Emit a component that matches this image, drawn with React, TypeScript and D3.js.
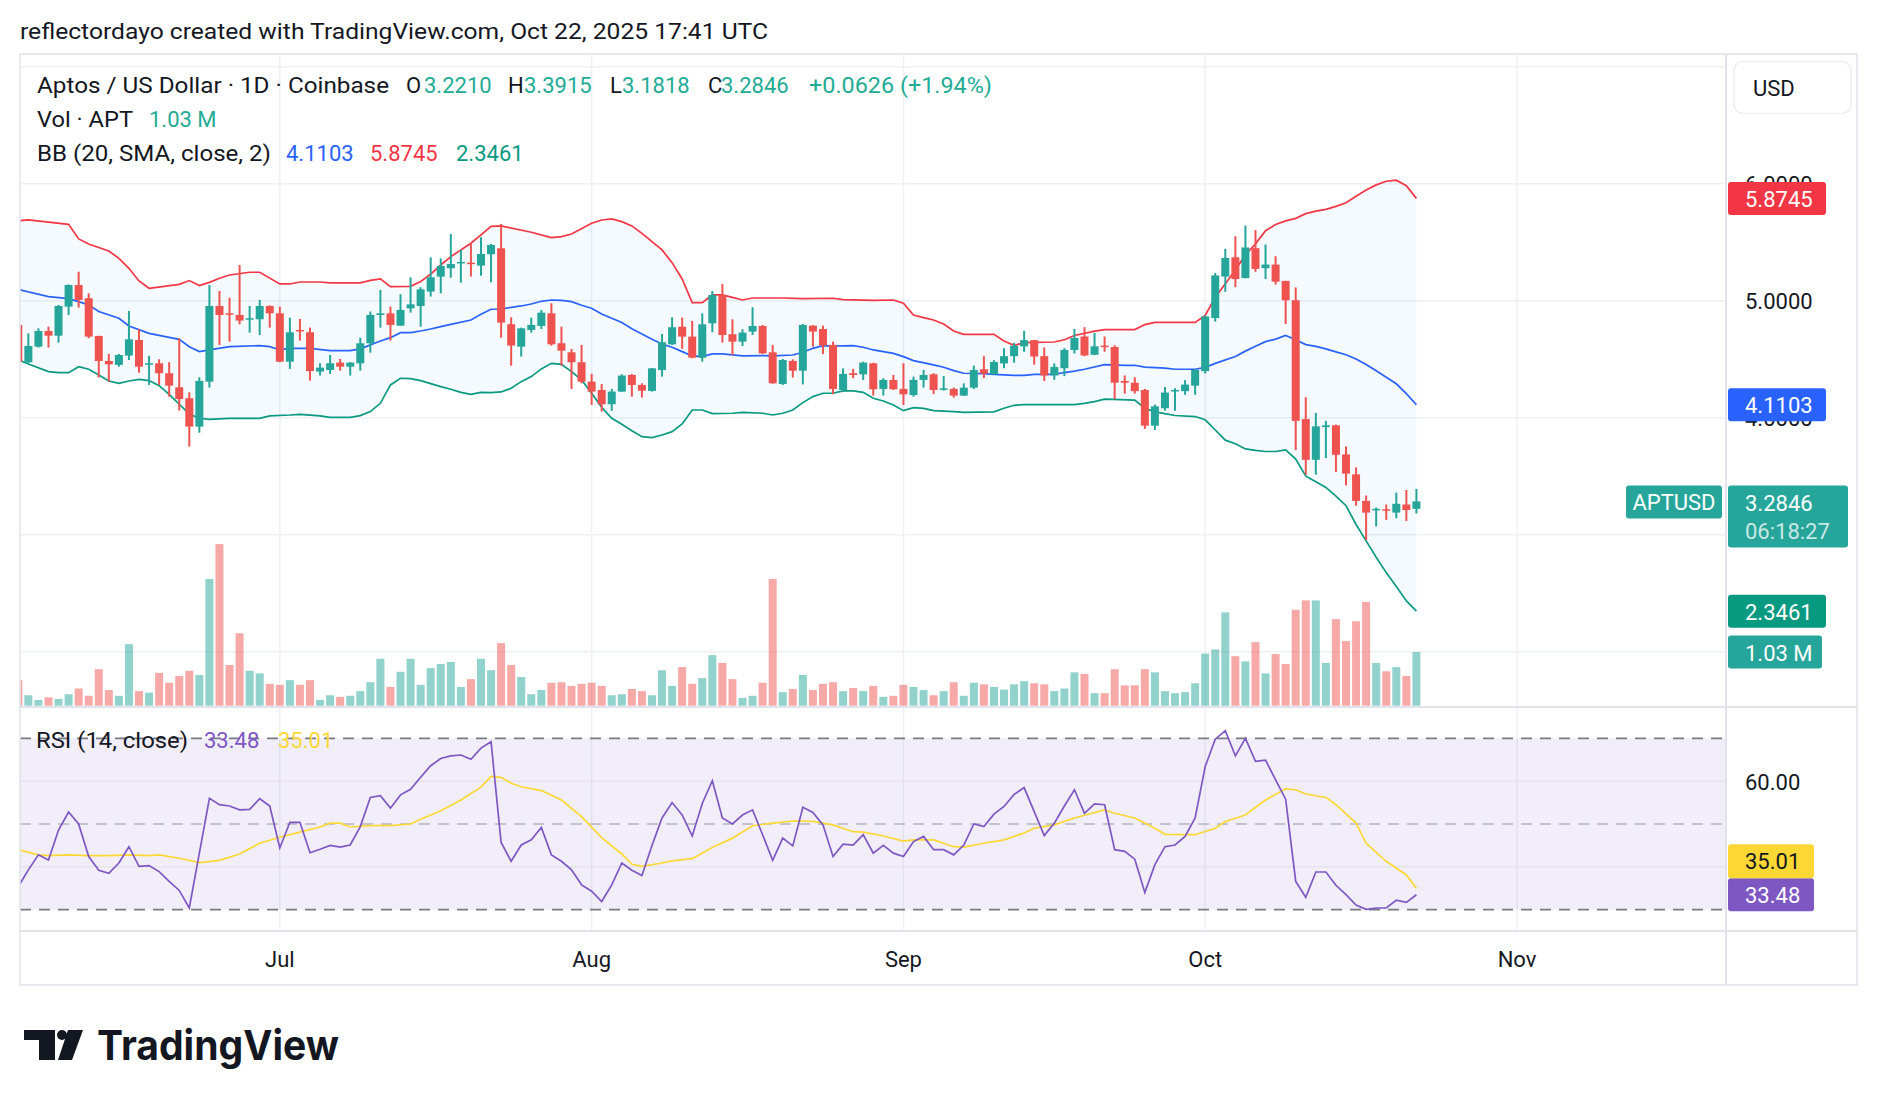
import * as d3 from "d3";

// APT/USD daily, Jun 5 – Oct 22 2025 (one entry per day)
const FIRST_DAY = "2025-06-05";
const LAST_AXIS_DAY = "2025-11-01";

const OPEN = [
  4.793, 4.474, 4.607, 4.741, 4.701, 4.949, 5.134, 5.021, 4.699, 4.485,
  4.451, 4.531, 4.664, 4.456, 4.465, 4.38, 4.26, 4.166, 3.924, 4.308,
  4.955, 4.892, 4.878, 4.844, 4.841, 4.955, 4.892, 4.479, 4.75, 4.73,
  4.394, 4.408, 4.471, 4.436, 4.465, 4.636, 4.878, 4.892, 4.787, 4.935,
  4.955, 5.078, 5.206, 5.277, 5.32, 5.325, 5.3, 5.397, 5.448, 4.799,
  4.607, 4.75, 4.784, 4.892, 4.636, 4.559, 4.474, 4.308, 4.237, 4.115,
  4.223, 4.365, 4.28, 4.229, 4.408, 4.627, 4.778, 4.693, 4.513, 4.807,
  5.049, 4.713, 4.65, 4.736, 4.784, 4.559, 4.288, 4.485, 4.402, 4.787,
  4.758, 4.622, 4.237, 4.38, 4.371, 4.465, 4.246, 4.323, 4.246, 4.194,
  4.323, 4.371, 4.243, 4.246, 4.189, 4.257, 4.414, 4.37, 4.464, 4.526,
  4.61, 4.663, 4.526, 4.361, 4.423, 4.579, 4.694, 4.538, 4.616, 4.604,
  4.314, 4.299, 4.237, 3.932, 4.081, 4.227, 4.227, 4.274, 4.398, 4.852,
  5.206, 5.371, 5.194, 5.449, 5.278, 5.309, 5.169, 5.004, 3.988, 3.64,
  3.92, 3.935, 3.686, 3.516, 3.289, 3.211, 3.217, 3.189, 3.258, 3.221,
];
const HIGH = [
  4.85, 4.721, 4.764, 4.778, 4.964, 5.14, 5.248, 5.063, 4.7, 4.545,
  4.545, 4.912, 4.756, 4.528, 4.499, 4.474, 4.679, 4.217, 4.345, 5.134,
  5.083, 5.026, 5.305, 4.955, 5.006, 4.96, 4.949, 4.855, 4.844, 4.77,
  4.465, 4.536, 4.502, 4.475, 4.684, 4.907, 5.092, 4.949, 5.055, 5.2,
  5.115, 5.371, 5.362, 5.57, 5.434, 5.491, 5.542, 5.485, 5.656, 4.858,
  4.77, 4.855, 4.921, 4.978, 4.778, 4.588, 4.622, 4.374, 4.288, 4.246,
  4.371, 4.374, 4.294, 4.425, 4.716, 4.858, 4.855, 4.827, 4.892, 5.083,
  5.143, 4.841, 4.756, 4.944, 4.793, 4.622, 4.502, 4.499, 4.801, 4.79,
  4.787, 4.65, 4.422, 4.417, 4.479, 4.47, 4.337, 4.365, 4.465, 4.351,
  4.408, 4.38, 4.357, 4.257, 4.294, 4.445, 4.526, 4.492, 4.594, 4.641,
  4.743, 4.665, 4.6, 4.464, 4.594, 4.759, 4.774, 4.725, 4.694, 4.619,
  4.361, 4.345, 4.246, 4.112, 4.262, 4.252, 4.321, 4.414, 4.874, 5.237,
  5.443, 5.551, 5.642, 5.604, 5.48, 5.38, 5.17, 5.113, 4.175, 4.041,
  3.973, 3.942, 3.755, 3.575, 3.335, 3.233, 3.258, 3.36, 3.382, 3.3915,
];
const LOW = [
  4.45, 4.465, 4.6, 4.599, 4.642, 4.878, 4.941, 4.679, 4.343, 4.308,
  4.436, 4.493, 4.385, 4.28, 4.28, 4.18, 4.061, 3.753, 3.872, 4.257,
  4.622, 4.65, 4.798, 4.727, 4.707, 4.77, 4.475, 4.417, 4.659, 4.317,
  4.36, 4.374, 4.402, 4.36, 4.402, 4.556, 4.77, 4.659, 4.785, 4.898,
  4.778, 5.035, 5.063, 5.197, 5.154, 5.206, 5.214, 5.157, 4.684, 4.445,
  4.522, 4.727, 4.758, 4.616, 4.445, 4.246, 4.294, 4.109, 4.052, 4.058,
  4.22, 4.18, 4.172, 4.223, 4.351, 4.622, 4.588, 4.508, 4.479, 4.73,
  4.642, 4.536, 4.613, 4.707, 4.545, 4.29, 4.28, 4.343, 4.285, 4.607,
  4.545, 4.2, 4.231, 4.337, 4.323, 4.189, 4.189, 4.237, 4.109, 4.18,
  4.257, 4.203, 4.231, 4.172, 4.185, 4.246, 4.339, 4.37, 4.423, 4.47,
  4.563, 4.454, 4.314, 4.324, 4.355, 4.548, 4.526, 4.535, 4.563, 4.159,
  4.206, 4.206, 3.904, 3.895, 4.06, 4.06, 4.196, 4.196, 4.377, 4.821,
  5.076, 5.116, 5.19, 5.247, 5.185, 5.138, 4.802, 3.724, 3.513, 3.513,
  3.655, 3.537, 3.422, 3.248, 2.953, 3.071, 3.127, 3.14, 3.118, 3.1818,
];
const CLOSE = [
  4.479, 4.613, 4.741, 4.701, 4.955, 5.134, 5.006, 4.693, 4.485, 4.456,
  4.536, 4.67, 4.436, 4.465, 4.38, 4.274, 4.16, 3.924, 4.314, 4.955,
  4.878, 4.884, 4.83, 4.85, 4.955, 4.892, 4.479, 4.73, 4.741, 4.399,
  4.428, 4.465, 4.436, 4.471, 4.636, 4.878, 4.892, 4.793, 4.921, 4.969,
  5.097, 5.2, 5.297, 5.314, 5.331, 5.314, 5.399, 5.476, 4.813, 4.616,
  4.764, 4.793, 4.898, 4.627, 4.573, 4.474, 4.308, 4.223, 4.115, 4.223,
  4.36, 4.28, 4.231, 4.422, 4.645, 4.773, 4.693, 4.513, 4.798, 5.049,
  4.707, 4.65, 4.727, 4.784, 4.55, 4.294, 4.493, 4.402, 4.793, 4.736,
  4.616, 4.246, 4.374, 4.365, 4.471, 4.243, 4.323, 4.243, 4.2, 4.323,
  4.365, 4.237, 4.251, 4.189, 4.257, 4.408, 4.377, 4.476, 4.526, 4.616,
  4.663, 4.523, 4.361, 4.433, 4.579, 4.681, 4.532, 4.61, 4.604, 4.299,
  4.299, 4.227, 3.932, 4.097, 4.215, 4.237, 4.283, 4.408, 4.865, 5.216,
  5.365, 5.185, 5.455, 5.272, 5.309, 5.163, 5.004, 3.973, 3.64, 3.926,
  3.935, 3.683, 3.522, 3.289, 3.189, 3.221, 3.211, 3.264, 3.211, 3.2846,
];
// volume, millions of APT
const VOLUME = [
  0.49, 0.2, 0.11, 0.16, 0.13, 0.22, 0.33, 0.19, 0.7, 0.3,
  0.19, 1.18, 0.28, 0.25, 0.63, 0.44, 0.57, 0.67, 0.59, 2.43,
  3.1, 0.78, 1.39, 0.67, 0.62, 0.42, 0.4, 0.49, 0.4, 0.49,
  0.11, 0.2, 0.17, 0.19, 0.28, 0.45, 0.9, 0.36, 0.65, 0.9,
  0.4, 0.72, 0.8, 0.84, 0.36, 0.51, 0.9, 0.68, 1.2, 0.78,
  0.55, 0.22, 0.3, 0.44, 0.45, 0.38, 0.42, 0.44, 0.38, 0.2,
  0.22, 0.32, 0.28, 0.2, 0.68, 0.38, 0.74, 0.42, 0.53, 0.97,
  0.82, 0.51, 0.15, 0.19, 0.44, 2.43, 0.26, 0.32, 0.59, 0.3,
  0.42, 0.45, 0.28, 0.34, 0.28, 0.38, 0.17, 0.19, 0.4, 0.36,
  0.3, 0.2, 0.28, 0.45, 0.19, 0.44, 0.41, 0.36, 0.31, 0.41,
  0.47, 0.43, 0.41, 0.28, 0.33, 0.64, 0.61, 0.24, 0.24, 0.7,
  0.39, 0.39, 0.7, 0.64, 0.28, 0.24, 0.26, 0.43, 1.0, 1.08,
  1.79, 0.95, 0.85, 1.22, 0.62, 0.99, 0.8, 1.84, 2.02, 2.02,
  0.82, 1.66, 1.24, 1.62, 1.99, 0.82, 0.66, 0.74, 0.57, 1.03,
];
const RSI = [
  35.4, 39.3, 42.8, 41.6, 48.6, 52.8, 50.0, 42.4, 39.2, 38.5,
  40.9, 44.7, 40.1, 40.3, 38.9, 36.6, 34.5, 30.4, 43.2, 56.0,
  54.5, 54.2, 53.3, 53.4, 55.9, 54.2, 44.4, 50.4, 50.4, 43.3,
  44.1, 45.0, 44.6, 45.1, 49.4, 56.2, 56.6, 53.7, 56.8, 58.1,
  60.9, 63.6, 65.3, 65.9, 66.1, 65.1, 67.7, 69.2, 45.7, 41.3,
  45.1, 46.3, 49.2, 42.8, 41.3, 39.3, 35.8, 34.3, 31.9, 35.8,
  40.9, 39.2, 38.0, 45.0, 51.4, 55.0, 52.1, 47.2, 54.8, 60.1,
  51.4, 50.0, 52.1, 53.3, 47.5, 41.5, 46.7, 44.9, 53.9, 52.7,
  49.8, 42.4, 45.3, 45.1, 47.5, 43.2, 45.0, 43.2, 42.4, 45.9,
  47.1, 44.0, 44.0, 42.8, 45.1, 50.0, 49.4, 52.3, 54.1, 56.9,
  58.5, 52.9, 47.3, 50.2, 54.2, 58.0, 52.5, 54.7, 54.5, 44.0,
  43.6, 41.8, 34.0, 40.5, 44.7, 45.1, 47.1, 51.4, 63.4, 69.8,
  71.8, 65.9, 70.0, 64.6, 64.9, 60.3, 55.8, 36.6, 32.9, 38.8,
  38.8, 35.7, 33.5, 31.1, 30.1, 30.4, 30.4, 32.2, 31.7, 33.48,
];
// [day index, value] readings
const RSI_MA: [number, number][] = [
  [0, 44.0], [2, 42.8], [3, 42.6], [5, 42.8], [7, 42.6], [9, 42.6], [11, 42.8], [13, 42.6],
  [14, 42.8], [16, 42.0], [18, 41.0], [20, 41.5], [22, 43.0], [24, 45.5], [26, 46.9], [28, 48.1],
  [30, 49.3], [31, 50.2], [32, 50.2], [33, 49.3], [35, 49.6], [37, 49.6], [39, 50.0], [40, 51.1],
  [42, 53.1], [44, 55.6], [46, 58.6], [47, 61.1], [48, 60.9], [49, 59.5], [50, 58.7], [52, 57.8],
  [54, 55.6], [56, 51.7], [58, 46.8], [60, 43.0], [61, 40.6], [62, 40.1], [64, 40.9], [65, 41.4],
  [67, 41.9], [69, 44.5], [71, 46.7], [73, 49.6], [75, 50.2], [77, 50.7], [79, 50.6], [81, 49.8],
  [83, 48.2], [84, 48.1], [86, 47.2], [88, 46.0], [89, 46.3], [91, 46.3], [93, 44.7], [94, 44.6],
  [96, 45.5], [98, 46.3], [100, 47.9], [101, 49.0], [103, 49.8], [105, 51.4], [108, 53.3], [109, 52.5],
  [111, 51.4], [113, 49.0], [114, 47.6], [116, 47.5], [117, 47.5], [119, 49.0], [120, 50.6], [122, 52.1],
  [124, 55.6], [126, 58.2], [127, 58.0], [128, 57.0], [130, 56.2], [131, 54.5], [133, 50.2], [134, 45.5],
  [136, 41.3], [138, 38.1], [139, 35.01],
];
const BB_UPPER: [number, number][] = [
  [0, 5.684], [1, 5.69], [5, 5.653], [6, 5.528], [7, 5.485], [9, 5.425], [10, 5.362], [11, 5.277],
  [12, 5.169], [13, 5.106], [16, 5.14], [17, 5.172], [18, 5.129], [19, 5.157], [20, 5.192], [21, 5.22],
  [23, 5.243], [24, 5.243], [26, 5.143], [27, 5.143], [28, 5.16], [30, 5.16], [31, 5.152], [34, 5.152],
  [35, 5.174], [36, 5.186], [37, 5.12], [39, 5.123], [40, 5.163], [41, 5.228], [42, 5.305], [43, 5.377],
  [45, 5.491], [46, 5.562], [47, 5.636], [48, 5.639], [51, 5.585], [53, 5.539], [54, 5.548], [55, 5.57],
  [57, 5.662], [58, 5.69], [59, 5.699], [60, 5.676], [61, 5.639], [62, 5.576], [64, 5.434], [65, 5.325],
  [66, 5.186], [67, 4.984], [68, 4.984], [69, 5.049], [70, 5.049], [71, 5.029], [72, 5.006], [73, 5.023],
  [76, 5.023], [78, 5.018], [81, 5.021], [82, 5.009], [85, 5.003], [87, 5.006], [88, 4.978], [89, 4.878],
  [90, 4.855], [91, 4.835], [92, 4.801], [93, 4.741], [94, 4.713], [97, 4.712], [98, 4.656], [99, 4.619],
  [100, 4.641], [103, 4.647], [104, 4.666], [105, 4.703], [107, 4.74], [108, 4.753], [111, 4.753], [112, 4.796],
  [113, 4.815], [117, 4.815], [118, 4.874], [119, 5.029], [120, 5.144], [121, 5.262], [122, 5.393], [123, 5.486],
  [124, 5.598], [125, 5.651], [126, 5.682], [127, 5.704], [128, 5.744], [129, 5.766], [130, 5.781], [131, 5.806],
  [132, 5.837], [133, 5.893], [134, 5.946], [135, 5.99], [136, 6.021], [137, 6.03], [138, 5.983], [139, 5.8745],
];
const BB_BASIS: [number, number][] = [
  [0, 5.097], [3, 5.035], [5, 5.018], [6, 4.992], [7, 4.964], [8, 4.907], [10, 4.85], [11, 4.784],
  [13, 4.721], [15, 4.687], [16, 4.67], [17, 4.607], [18, 4.565], [19, 4.579], [21, 4.607], [24, 4.616],
  [25, 4.607], [26, 4.579], [27, 4.593], [29, 4.593], [31, 4.573], [33, 4.573], [34, 4.588], [36, 4.656],
  [37, 4.684], [38, 4.727], [39, 4.727], [40, 4.741], [41, 4.758], [42, 4.778], [43, 4.798], [45, 4.835],
  [46, 4.884], [47, 4.927], [48, 4.929], [50, 4.955], [51, 4.972], [52, 4.995], [53, 5.006], [54, 5.003],
  [55, 4.992], [56, 4.961], [57, 4.935], [58, 4.887], [60, 4.813], [61, 4.76], [63, 4.67], [64, 4.63],
  [65, 4.602], [66, 4.565], [67, 4.528], [68, 4.522], [69, 4.545], [70, 4.545], [72, 4.528], [74, 4.531],
  [75, 4.528], [77, 4.536], [78, 4.559], [79, 4.593], [80, 4.616], [81, 4.613], [83, 4.616], [84, 4.602],
  [85, 4.579], [87, 4.55], [88, 4.522], [89, 4.488], [91, 4.451], [92, 4.431], [93, 4.402], [94, 4.38],
  [96, 4.377], [97, 4.37], [99, 4.361], [100, 4.361], [101, 4.37], [103, 4.37], [104, 4.386], [105, 4.398],
  [106, 4.414], [108, 4.454], [110, 4.448], [111, 4.448], [112, 4.433], [114, 4.423], [115, 4.414], [117, 4.414],
  [118, 4.43], [119, 4.464], [121, 4.523], [122, 4.569], [123, 4.61], [124, 4.65], [125, 4.672], [126, 4.703],
  [127, 4.666], [128, 4.625], [129, 4.61], [130, 4.588], [131, 4.563], [132, 4.538], [133, 4.501], [134, 4.454],
  [135, 4.401], [136, 4.346], [137, 4.29], [138, 4.206], [139, 4.1103],
];
const BB_LOWER: [number, number][] = [
  [0, 4.493], [1, 4.459], [3, 4.394], [4, 4.385], [5, 4.385], [6, 4.436], [7, 4.414], [8, 4.365],
  [9, 4.314], [10, 4.294], [11, 4.314], [12, 4.328], [13, 4.317], [14, 4.274], [15, 4.2], [16, 4.115],
  [17, 4.032], [18, 3.995], [19, 3.986], [21, 3.995], [24, 3.995], [25, 4.015], [27, 4.023], [28, 4.029],
  [30, 4.015], [31, 4.003], [33, 4.003], [34, 4.018], [35, 4.052], [36, 4.123], [37, 4.28], [38, 4.337],
  [39, 4.334], [40, 4.317], [41, 4.291], [42, 4.266], [43, 4.243], [44, 4.217], [45, 4.2], [46, 4.217],
  [47, 4.214], [48, 4.22], [49, 4.251], [50, 4.308], [51, 4.351], [52, 4.417], [53, 4.465], [54, 4.456],
  [55, 4.394], [56, 4.323], [57, 4.209], [58, 4.089], [59, 3.995], [60, 3.944], [61, 3.889], [62, 3.838],
  [63, 3.83], [64, 3.852], [65, 3.881], [66, 3.946], [67, 4.066], [68, 4.066], [69, 4.035], [71, 4.038],
  [72, 4.046], [74, 4.038], [75, 4.023], [76, 4.038], [77, 4.066], [78, 4.129], [79, 4.18], [80, 4.209],
  [81, 4.209], [82, 4.229], [83, 4.229], [84, 4.217], [85, 4.166], [86, 4.143], [87, 4.109], [88, 4.06],
  [89, 4.086], [90, 4.08], [91, 4.06], [93, 4.052], [94, 4.046], [97, 4.05], [98, 4.081], [99, 4.106],
  [100, 4.112], [102, 4.112], [105, 4.112], [106, 4.122], [107, 4.137], [108, 4.159], [111, 4.15], [112, 4.081],
  [113, 4.05], [114, 4.035], [115, 4.019], [117, 4.01], [118, 3.982], [119, 3.895], [120, 3.808], [121, 3.777],
  [122, 3.733], [123, 3.721], [124, 3.711], [125, 3.711], [126, 3.724], [127, 3.646], [128, 3.5], [129, 3.453],
  [130, 3.404], [131, 3.329], [132, 3.248], [133, 3.087], [134, 2.947], [135, 2.807], [136, 2.676], [137, 2.558],
  [138, 2.434], [139, 2.3461],
];

const MONTH_STARTS = ["2025-07-01", "2025-08-01", "2025-09-01", "2025-10-01", "2025-11-01"];
const MONTH_LABELS = ["Jul", "Aug", "Sep", "Oct", "Nov"];
const PRICE_GRID = [7, 6, 5, 4, 3, 2];
const PRICE_LABELS = [6, 5, 4, 3, 2];
const RSI_GRID = [60, 40];
const RSI_BANDS = [70, 50, 30];

const LAST = { price: 3.2846, upper: 5.8745, basis: 4.1103, lower: 2.3461, vol: 1.03, rsi: 33.48, rsiMa: 35.01 };

// layout
const W = 1878;
const H = 1106;
const L = 20; // pane left
const R = 1726; // pane right / price axis start
const AX_R = 1857;
const TOP = 54;
const MAIN_B = 707;
const RSI_B = 931;
const BOTTOM = 985;

const FONT = "Roboto, 'Open Sans', sans-serif";
const TEXT = "#131722";
const UP = "#26a69a";
const DOWN = "#ef5350";
const GRID = "#eef0f4";
const BORDER = "#e0e3eb";

const utc = (s: string) => new Date(s + "T00:00:00Z");

// stretch Roboto to the wider reference text
const Wide = ({ x, y, w, fill, children }: { x: number; y: number; w: number; fill: string; children: string }) => (
  <text x={x} y={y} fill={fill} textLength={w} lengthAdjust="spacingAndGlyphs">
    {children}
  </text>
);

export default function App() {
  const day0 = utc(FIRST_DAY);
  const dayDate = (i: number) => d3.utcDay.offset(day0, i);

  const x = d3.scaleUtc().domain([day0, utc(LAST_AXIS_DAY)]).range([18.3, 1517]);
  const xi = (i: number) => x(dayDate(i));
  const y = d3.scaleLinear().domain([2, 6]).range([651.7, 183.7]);
  const yVol = d3.scaleLinear().domain([0, 1.03]).range([705.7, 652]);
  const yRsi = d3.scaleLinear().domain([30, 70]).range([909.7, 738.3]);

  const bbLine = d3.line<[number, number]>().x((d) => xi(d[0])).y((d) => y(d[1]));
  const rsiLine = d3.line<[number, number]>().x((d) => xi(d[0])).y((d) => yRsi(d[1]));
  const fillPts: [number, number][] = [
    ...BB_UPPER.map((d) => [xi(d[0]), y(d[1])] as [number, number]),
    ...BB_LOWER.slice().reverse().map((d) => [xi(d[0]), y(d[1])] as [number, number]),
  ];
  const fillPath = (d3.line()(fillPts) || "") + "Z";

  const bodyW = 8;

  const priceBox = (v: number, fill: string, label: string, w = 98) => {
    const cy = y(v);
    return (
      <g key={label + fill}>
        <rect x={R + 2} y={cy - 16.5} width={w} height={33} rx={3} fill={fill} />
        <text x={1745} y={cy + 1} dominantBaseline="central" fill="#fff" fontSize={22}>
          {label}
        </text>
      </g>
    );
  };

  const rsiBoxY = yRsi(LAST.rsi);

  return (
    <div style={{ position: "absolute", left: 0, top: 0 }}>
      <svg width={W} height={H} style={{ display: "block", fontFamily: FONT }}>
        <defs>
          <clipPath id="mainClip">
            <rect x={L} y={TOP} width={R - L} height={MAIN_B - TOP} />
          </clipPath>
          <clipPath id="rsiClip">
            <rect x={L} y={MAIN_B} width={R - L} height={RSI_B - MAIN_B} />
          </clipPath>
        </defs>
        <rect width={W} height={H} fill="#fff" />

        {/* title */}
        <g fontSize={22} dominantBaseline="central">
          <Wide x={20} y={31} w={748} fill={TEXT}>
            reflectordayo created with TradingView.com, Oct 22, 2025 17:41 UTC
          </Wide>
        </g>

        {/* grid */}
        {PRICE_GRID.map((p) => (
          <line key={"pg" + p} x1={L} x2={R} y1={y(p)} y2={y(p)} stroke={GRID} strokeWidth={1.5} />
        ))}
        {MONTH_STARTS.map((m) => (
          <line key={"vg" + m} x1={x(utc(m))} x2={x(utc(m))} y1={TOP} y2={RSI_B} stroke={GRID} strokeWidth={1.5} />
        ))}

        {/* main pane */}
        <g clipPath="url(#mainClip)">
          <path d={fillPath} fill="rgba(33,150,243,0.05)" />
          {VOLUME.map((v, i) => (
            <rect
              key={"v" + i}
              x={xi(i) - bodyW / 2}
              y={yVol(v)}
              width={bodyW}
              height={yVol(0) - yVol(v)}
              fill={CLOSE[i] >= OPEN[i] ? UP : DOWN}
              fillOpacity={0.5}
            />
          ))}
          <path d={bbLine(BB_UPPER) || ""} fill="none" stroke="#f23645" strokeWidth={1.7} />
          <path d={bbLine(BB_BASIS) || ""} fill="none" stroke="#2962ff" strokeWidth={1.7} />
          <path d={bbLine(BB_LOWER) || ""} fill="none" stroke="#089981" strokeWidth={1.7} />
          {OPEN.map((o, i) => {
            const c = CLOSE[i];
            const col = c >= o ? UP : DOWN;
            const top = y(Math.max(o, c));
            const h = Math.max(1.5, y(Math.min(o, c)) - top);
            return (
              <g key={"c" + i}>
                <line x1={xi(i)} x2={xi(i)} y1={y(HIGH[i])} y2={y(LOW[i])} stroke={col} strokeWidth={2} />
                <rect x={xi(i) - bodyW / 2} y={top} width={bodyW} height={h} fill={col} />
              </g>
            );
          })}
        </g>

        {/* RSI pane */}
        <g clipPath="url(#rsiClip)">
          <rect x={L} y={yRsi(70)} width={R - L} height={yRsi(30) - yRsi(70)} fill="rgba(126,87,194,0.1)" />
          {RSI_GRID.map((r) => (
            <line key={"rg" + r} x1={L} x2={R} y1={yRsi(r)} y2={yRsi(r)} stroke="#e4e3ec" strokeWidth={1.5} />
          ))}
          {RSI_BANDS.map((r) => (
            <line
              key={"rb" + r}
              x1={L}
              x2={R}
              y1={yRsi(r)}
              y2={yRsi(r)}
              stroke={r === 50 ? "#b2b5be" : "#787b86"}
              strokeWidth={1.7}
              strokeDasharray="11 8"
            />
          ))}
          <path d={rsiLine(RSI_MA) || ""} fill="none" stroke="#fdd835" strokeWidth={1.7} />
          <path d={rsiLine(RSI.map((r, i) => [i, r] as [number, number])) || ""} fill="none" stroke="#7e57c2" strokeWidth={1.7} />
        </g>

        {/* frame and separators */}
        <rect x={L} y={TOP} width={AX_R - L} height={BOTTOM - TOP} fill="none" stroke={BORDER} strokeWidth={1.5} />
        <line x1={R} x2={R} y1={TOP} y2={BOTTOM} stroke={BORDER} strokeWidth={2} />
        <line x1={L} x2={AX_R} y1={MAIN_B} y2={MAIN_B} stroke={BORDER} strokeWidth={2} />
        <line x1={L} x2={AX_R} y1={RSI_B} y2={RSI_B} stroke={BORDER} strokeWidth={2} />

        {/* legend */}
        <g fontSize={22} dominantBaseline="central">
          <Wide x={37} y={85} w={352} fill={TEXT}>Aptos / US Dollar · 1D · Coinbase</Wide>
          <text x={406} y={85} fill={TEXT}>O</text>
          <text x={424} y={85} fill="#22ab94">3.2210</text>
          <text x={508} y={85} fill={TEXT}>H</text>
          <text x={524} y={85} fill="#22ab94">3.3915</text>
          <text x={610} y={85} fill={TEXT}>L</text>
          <text x={622} y={85} fill="#22ab94">3.1818</text>
          <text x={708} y={85} fill={TEXT}>C</text>
          <text x={721} y={85} fill="#22ab94">3.2846</text>
          <Wide x={809} y={85} w={183} fill="#22ab94">+0.0626 (+1.94%)</Wide>
          <Wide x={37} y={119} w={96} fill={TEXT}>Vol · APT</Wide>
          <text x={149} y={119} fill="#22ab94">1.03 M</text>
          <Wide x={37} y={153} w={234} fill={TEXT}>BB (20, SMA, close, 2)</Wide>
          <text x={286} y={153} fill="#2962ff">4.1103</text>
          <text x={370} y={153} fill="#f23645">5.8745</text>
          <text x={456} y={153} fill="#089981">2.3461</text>
          <Wide x={36} y={740} w={152} fill={TEXT}>RSI (14, close)</Wide>
          <text x={204} y={740} fill="#7e57c2">33.48</text>
          <text x={278} y={740} fill="#fdd835">35.01</text>
        </g>

        {/* time axis */}
        {MONTH_STARTS.map((m, k) => (
          <text key={"ml" + m} x={x(utc(m))} y={959} textAnchor="middle" dominantBaseline="central" fontSize={22} fill={TEXT}>
            {MONTH_LABELS[k]}
          </text>
        ))}

        {/* price axis */}
        <rect x={1734} y={61.5} width={117} height={52} rx={9} fill="#fff" stroke="#eceef2" strokeWidth={1.5} />
        <text x={1753} y={88} dominantBaseline="central" fontSize={22} fill={TEXT}>USD</text>
        {PRICE_LABELS.map((p) => (
          <text key={"pl" + p} x={1745} y={y(p) + 1} dominantBaseline="central" fontSize={22} fill={TEXT}>
            {p.toFixed(4)}
          </text>
        ))}
        {RSI_GRID.map((r) => (
          <text key={"rl" + r} x={1745} y={yRsi(r) + 1} dominantBaseline="central" fontSize={22} fill={TEXT}>
            {r.toFixed(2)}
          </text>
        ))}
        {priceBox(LAST.upper, "#f23645", LAST.upper.toFixed(4))}
        {priceBox(LAST.basis, "#2962ff", LAST.basis.toFixed(4))}
        {priceBox(LAST.lower, "#089981", LAST.lower.toFixed(4))}
        <g>
          <rect x={R + 2} y={y(LAST.price) - 16} width={120} height={62} rx={3} fill={UP} />
          <text x={1745} y={y(LAST.price) + 2} dominantBaseline="central" fontSize={22} fill="#fff">
            {LAST.price.toFixed(4)}
          </text>
          <text x={1745} y={y(LAST.price) + 30} dominantBaseline="central" fontSize={22} fill="rgba(255,255,255,0.75)">
            06:18:27
          </text>
          <rect x={1626} y={y(LAST.price) - 16} width={96} height={33} rx={3} fill={UP} />
          <text x={1674} y={y(LAST.price) + 1} textAnchor="middle" dominantBaseline="central" fontSize={22} fill="#fff">
            APTUSD
          </text>
        </g>
        <rect x={R + 2} y={yVol(LAST.vol) - 16.5} width={94} height={33} rx={3} fill={UP} />
        <text x={1745} y={yVol(LAST.vol) + 1} dominantBaseline="central" fontSize={22} fill="#fff">
          {LAST.vol.toFixed(2)} M
        </text>
        <rect x={R + 2} y={rsiBoxY - 16.5} width={86} height={33} rx={3} fill="#7e57c2" />
        <text x={1745} y={rsiBoxY + 1} dominantBaseline="central" fontSize={22} fill="#fff">
          {LAST.rsi.toFixed(2)}
        </text>
        <rect x={R + 2} y={rsiBoxY - 50.5} width={86} height={34} rx={3} fill="#fdd835" />
        <text x={1745} y={rsiBoxY - 33} dominantBaseline="central" fontSize={22} fill={TEXT}>
          {LAST.rsiMa.toFixed(2)}
        </text>

        {/* logo */}
        <g fill={TEXT}>
          <path d="M24 1030H55V1060H39V1040H24Z" />
          <circle cx={62} cy={1035} r={5} />
          <path d="M68 1030H83L72 1060H58Z" />
          <text x={97} y={1060} fontSize={41} fontWeight={700} fontFamily="Inter, Roboto, sans-serif" textLength={242} lengthAdjust="spacingAndGlyphs">
            TradingView
          </text>
        </g>
      </svg>
    </div>
  );
}
